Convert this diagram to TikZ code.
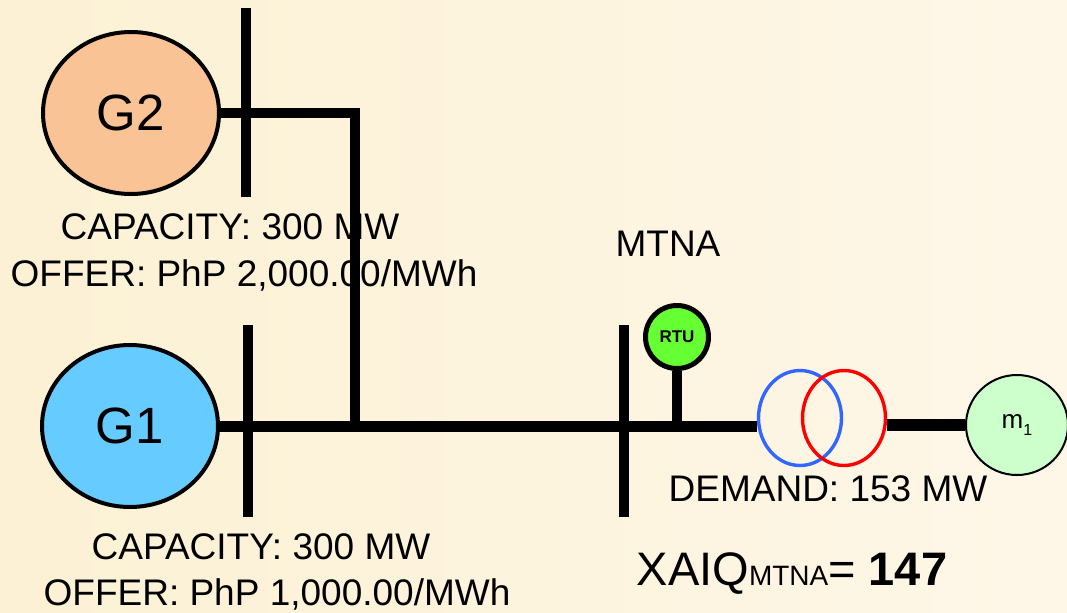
\documentclass[tikz,border=0pt]{standalone}
\usepackage{fontspec}
\setmainfont{Liberation Sans}
\usetikzlibrary{shapes.geometric}

\definecolor{bgleft}{RGB}{252,241,212}
\definecolor{bgright}{RGB}{254,247,232}
\definecolor{gentwo}{RGB}{249,195,150}
\definecolor{genone}{RGB}{102,204,255}
\definecolor{rtugreen}{RGB}{102,255,51}
\definecolor{loadgreen}{RGB}{204,255,204}
\definecolor{xfblue}{RGB}{51,102,255}

\begin{document}
\begin{tikzpicture}[x=0.5pt, y=-0.5pt,
    gen/.style={ellipse, draw, line width=2pt, minimum width=88pt, minimum height=81pt, inner sep=0pt, font=\fontsize{25.5}{30}\selectfont},
    bus/.style={line width=5pt},
    lbl/.style={anchor=base, inner sep=0pt, font=\fontsize{18.5}{22}\selectfont},
    winding/.style={ellipse, draw, line width=1.7pt, minimum width=41.5pt, minimum height=47.5pt, inner sep=0pt}]

    % Background
    \useasboundingbox (0,0) rectangle (1067,612);
    \fill [left color=bgleft, right color=bgright] (0,0) rectangle (1067,612);

    % Generators
    \node [gen, fill=gentwo] (g2) at (131,113) {G2};
    \node [gen, fill=genone] (g1) at (130,426) {G1};

    % Transformer, RTU and load
    \node [winding, draw=xfblue] (xfa) at (800,418) {};
    \node [winding, draw=red] (xfb) at (844,418) {};
    \node [circle, draw, line width=2.5pt, fill=rtugreen, minimum size=31.5pt, inner sep=0pt, font=\bfseries\fontsize{8.5}{10}\selectfont] (rtu) at (677,337) {RTU};
    \node [ellipse, draw, line width=1pt, fill=loadgreen, minimum width=51pt, minimum height=50pt, inner sep=0pt, font=\fontsize{13}{15}\selectfont] (m1) at (1017,425) {m\raisebox{-3.5pt}{\fontsize{8}{9}\selectfont 1}};

    % Labels
    \node [lbl] (cap2) at (230,239) {CAPACITY: 300 MW};
    \node [lbl] (off2) at (244,286) {OFFER: PhP 2,000.00/MWh};
    \node [lbl] (mtna) at (668,256) {MTNA};
    \node [lbl] (demand) at (828,501) {DEMAND: 153 MW};
    \node [lbl] (cap1) at (261,559) {CAPACITY: 300 MW};
    \node [lbl] (off1) at (277,605) {OFFER: PhP 1,000.00/MWh};
    \node [anchor=base, inner sep=0pt, font=\fontsize{23.5}{27}\selectfont] (xaiq) at (792,585) {XAIQ{\fontsize{14}{16}\selectfont MTNA}= \textbf{147}};

    % Bus bars
    \coordinate (b2top) at (246,8);
    \coordinate (b2bot) at (246,197);
    \coordinate (b1top) at (248,325);
    \coordinate (b1bot) at (248,517);
    \coordinate (bmtop) at (624,325);
    \coordinate (bmbot) at (624,517);
    \draw [bus] (b2top) -- (b2bot);
    \draw [bus] (b1top) -- (b1bot);
    \draw [bus] (bmtop) -- (bmbot);

    % Lines
    \coordinate (g2bend) at (355,113);
    \coordinate (g2tap) at (355,426);
    \draw [bus] (g2.east) -- (g2bend) -- (g2tap);
    \draw [bus, line width=5.5pt] (g1.east) -- (g1.east -| xfa.west);
    \draw [bus] (rtu.south) -- (rtu.south |- g1.east);
    \draw [line width=6pt] (xfb.east |- m1.west) -- (m1.west);
\end{tikzpicture}
\end{document}
